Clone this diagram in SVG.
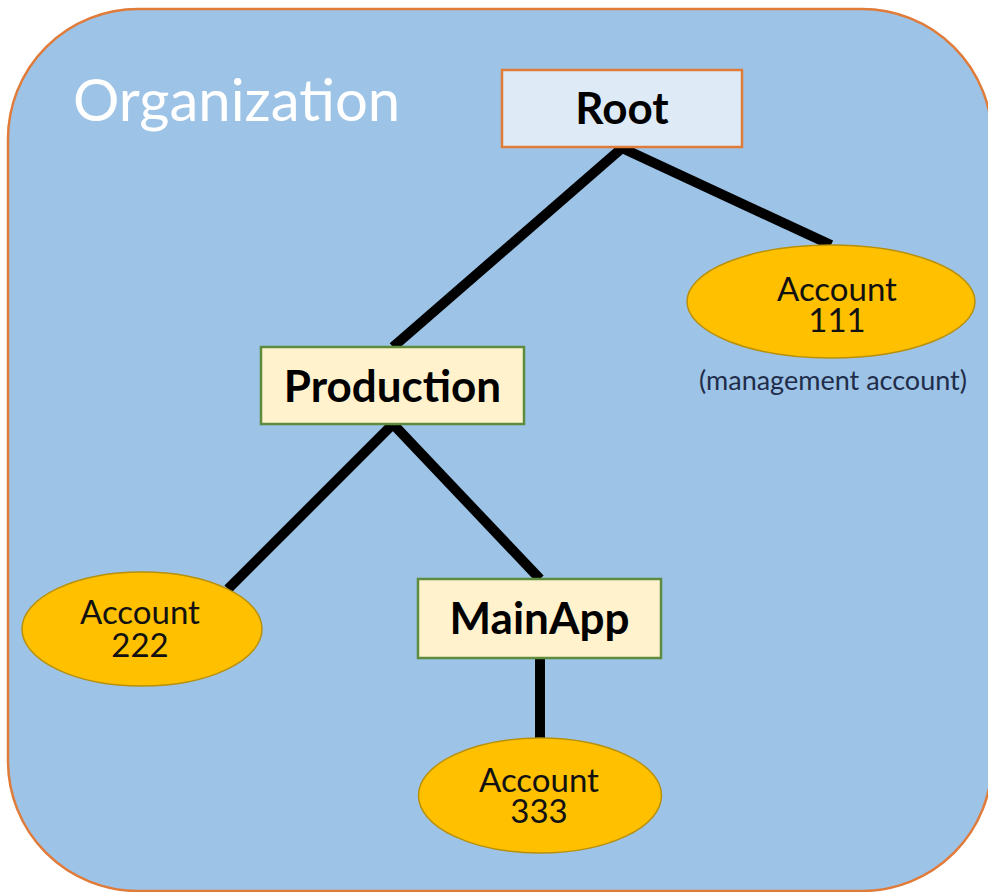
<svg xmlns="http://www.w3.org/2000/svg" width="988" height="892" viewBox="0 0 988 892">
  <style>
    .org { fill: #9DC3E6; stroke: #E07B39; stroke-width: 2.5; }
    .title { font-family: Lato, "Open Sans", sans-serif; font-size: 58px; fill: #FFFFFF; }
    .box-root { fill: #DEEBF7; stroke: #E07B39; stroke-width: 2.5; }
    .box-ou { fill: #FFF2CC; stroke: #5E8C3E; stroke-width: 2.5; }
    .box-label { font-family: Lato, "Open Sans", sans-serif; font-weight: bold; font-size: 44px; fill: #000000; text-anchor: middle; }
    .acct { fill: #FFC000; stroke: #B8900A; stroke-width: 1.5; }
    .acct-label { font-family: Lato, "Open Sans", sans-serif; font-size: 33px; fill: #111111; text-anchor: middle; }
    .note { font-family: Lato, "Open Sans", sans-serif; font-size: 27px; fill: #1F2D4A; text-anchor: middle; }
    .edge { stroke: #000000; stroke-width: 10; fill: none; }
  </style>

  <g id="organization">
    <rect class="org" x="8" y="9" width="984" height="882" rx="130" ry="130"/>
    <text class="title" x="73" y="121">Organization</text>
  </g>

  <g id="connectors">
    <line class="edge" x1="622" y1="148" x2="393" y2="347"/>
    <line class="edge" x1="622" y1="148" x2="831" y2="245"/>
    <line class="edge" x1="393" y1="424" x2="228" y2="589"/>
    <line class="edge" x1="393" y1="424" x2="540" y2="579"/>
    <line class="edge" x1="540" y1="658" x2="540" y2="738"/>
  </g>

  <g id="root">
    <rect class="box-root" x="502" y="70" width="240" height="77"/>
    <text class="box-label" x="622" y="124">Root</text>
  </g>

  <g id="account-111">
    <ellipse class="acct" cx="831" cy="301.5" rx="144" ry="56.5"/>
    <text class="acct-label"><tspan x="837" y="301">Account</tspan><tspan x="837" y="332">111</tspan></text>
    <text class="note" x="833" y="390">(management account)</text>
  </g>

  <g id="production">
    <rect class="box-ou" x="261" y="347" width="263" height="77"/>
    <text class="box-label" x="392.5" y="402">Production</text>
  </g>

  <g id="account-222">
    <ellipse class="acct" cx="142" cy="629" rx="120" ry="57"/>
    <text class="acct-label"><tspan x="140" y="624">Account</tspan><tspan x="140" y="657">222</tspan></text>
  </g>

  <g id="mainapp">
    <rect class="box-ou" x="418" y="579" width="243" height="79"/>
    <text class="box-label" x="539.5" y="634">MainApp</text>
  </g>

  <g id="account-333">
    <ellipse class="acct" cx="540" cy="795.5" rx="121.5" ry="57.5"/>
    <text class="acct-label"><tspan x="539" y="792">Account</tspan><tspan x="539" y="823">333</tspan></text>
  </g>
</svg>
